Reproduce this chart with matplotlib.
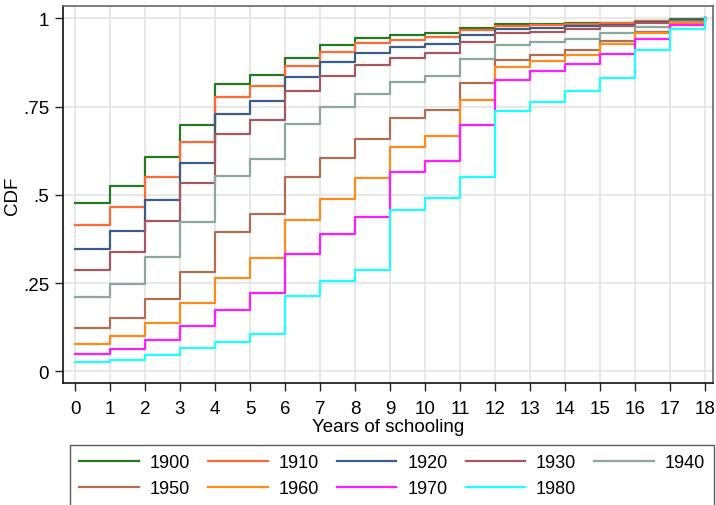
import matplotlib.pyplot as plt

plt.rcParams['font.family'] = ['Liberation Sans', 'DejaVu Sans']

# years of schooling 0..18, CDF by birth cohort
years = list(range(19))
cohorts = ['1900', '1910', '1920', '1930', '1940', '1950', '1960', '1970', '1980']

cdf_1900 = [0.476, 0.525, 0.607, 0.697, 0.815, 0.841, 0.889, 0.925, 0.944, 0.952,
            0.958, 0.972, 0.983, 0.985, 0.987, 0.988, 0.994, 0.997, 1.0]
cdf_1910 = [0.414, 0.466, 0.551, 0.650, 0.778, 0.809, 0.866, 0.906, 0.929, 0.939,
            0.946, 0.967, 0.979, 0.982, 0.984, 0.986, 0.993, 0.996, 1.0]
cdf_1920 = [0.347, 0.398, 0.486, 0.591, 0.730, 0.766, 0.835, 0.877, 0.903, 0.918,
            0.928, 0.953, 0.969, 0.973, 0.979, 0.982, 0.990, 0.995, 1.0]
cdf_1930 = [0.288, 0.337, 0.425, 0.534, 0.672, 0.713, 0.794, 0.838, 0.867, 0.888,
            0.901, 0.933, 0.958, 0.962, 0.971, 0.979, 0.988, 0.994, 1.0]
cdf_1940 = [0.210, 0.249, 0.325, 0.424, 0.554, 0.601, 0.700, 0.748, 0.785, 0.820,
            0.838, 0.884, 0.926, 0.934, 0.942, 0.960, 0.975, 0.990, 1.0]
cdf_1950 = [0.123, 0.152, 0.206, 0.281, 0.394, 0.446, 0.552, 0.605, 0.659, 0.718,
            0.742, 0.818, 0.883, 0.896, 0.910, 0.936, 0.962, 0.988, 1.0]
cdf_1960 = [0.078, 0.101, 0.138, 0.193, 0.266, 0.322, 0.430, 0.488, 0.548, 0.637,
            0.667, 0.768, 0.863, 0.880, 0.896, 0.928, 0.958, 0.986, 1.0]
cdf_1970 = [0.050, 0.064, 0.089, 0.129, 0.174, 0.222, 0.334, 0.388, 0.438, 0.564,
            0.597, 0.697, 0.827, 0.851, 0.870, 0.900, 0.943, 0.982, 1.0]
cdf_1980 = [0.026, 0.033, 0.046, 0.066, 0.083, 0.106, 0.214, 0.256, 0.286, 0.456,
            0.491, 0.550, 0.739, 0.764, 0.794, 0.832, 0.910, 0.969, 1.0]

series = [cdf_1900, cdf_1910, cdf_1920, cdf_1930, cdf_1940,
          cdf_1950, cdf_1960, cdf_1970, cdf_1980]
colors = ['#237a23', '#ff6a33', '#3b5e86', '#a25a5e', '#8ca89a',
          '#b06e50', '#ff8a1a', '#ff1aff', '#1affff']

y_ticks = [0, 0.25, 0.5, 0.75, 1]
y_labels = ['0', '.25', '.5', '.75', '1']

fig = plt.figure(figsize=(7.16, 5.06), dpi=100)
ax = fig.add_axes([0.088, 0.241, 0.908, 0.745])

handles = []
for name, vals, col in zip(cohorts, series, colors):
    h, = ax.step(years, vals, where='post', color=col, lw=1.6, label=name)
    handles.append(h)

ax.set_xlim(-0.343, 18.23)
ax.set_ylim(-0.033, 1.035)
ax.set_xticks(years)
ax.set_yticks(y_ticks)
ax.set_yticklabels(y_labels)
ax.grid(True, color='#e4e4e4', lw=1.2)
ax.set_axisbelow(True)
ax.tick_params(labelsize=13.5, length=6, width=1, color='#222222', pad=4)
ax.tick_params(axis='x', pad=6)
ax.set_xlabel('Years of schooling', fontsize=13.5, labelpad=1)
ax.set_ylabel('CDF', fontsize=13.5, labelpad=1)

for side in ['left', 'bottom']:
    ax.spines[side].set_color('#111111')
    ax.spines[side].set_linewidth(1.2)
for side in ['top', 'right']:
    ax.spines[side].set_color('#666666')
    ax.spines[side].set_linewidth(1.2)

# legend fills column by column, so interleave to get two rows in cohort order
order = [0, 5, 1, 6, 2, 7, 3, 8, 4]
leg = fig.legend([handles[i] for i in order], [cohorts[i] for i in order],
                 ncol=5, loc='upper left', bbox_to_anchor=(0.098, 0.1186),
                 borderaxespad=0, fontsize=13, frameon=True, fancybox=False,
                 handlelength=3.3, handletextpad=0.6, columnspacing=1.0,
                 labelspacing=0.5, borderpad=0.5)
leg.get_frame().set_edgecolor('#333333')
leg.get_frame().set_linewidth(1.0)

fig.savefig('out.png', dpi=100)
